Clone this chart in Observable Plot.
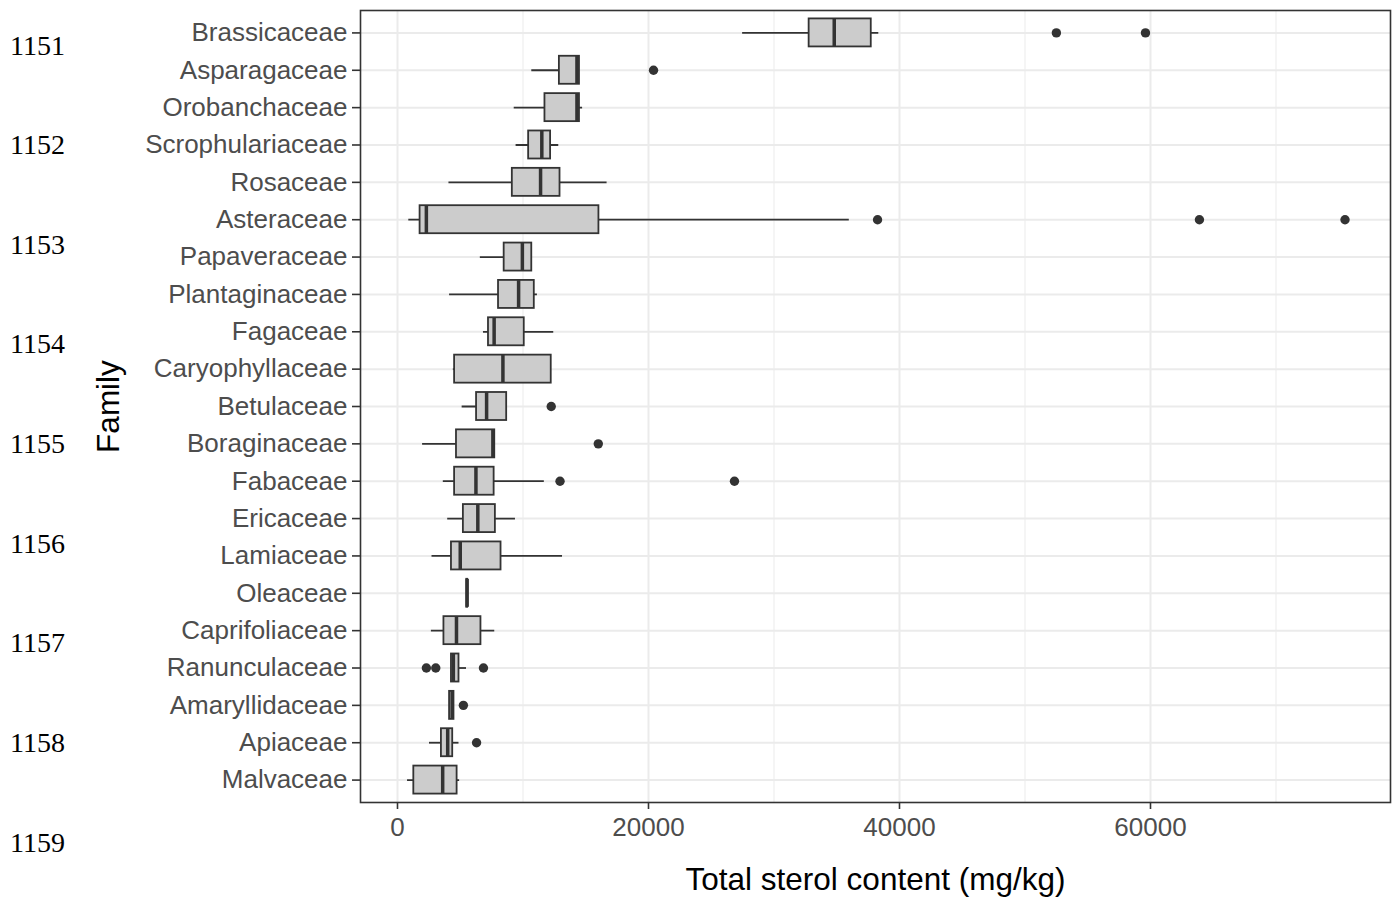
<!DOCTYPE html>
<html>
<head>
<meta charset="utf-8">
<script src="https://cdn.jsdelivr.net/npm/d3@7"></script>
<script src="https://cdn.jsdelivr.net/npm/@observablehq/plot@0.6"></script>
<style>
  html, body { margin: 0; padding: 0; background: white; }
  #wrap { position: relative; width: 1399px; height: 897px; overflow: hidden; background: white; }
  #chart { position: absolute; left: 0; top: 0; }
  .ln { position: absolute; left: 10px; font-family: "Liberation Serif", "Times New Roman", serif; font-size: 28px; line-height: 32px; color: #000; }
</style>
</head>
<body>
<div id="wrap"><div id="chart"></div></div>
<script>
// ---- data ----
const families = ["Brassicaceae","Asparagaceae","Orobanchaceae","Scrophulariaceae","Rosaceae","Asteraceae","Papaveraceae","Plantaginaceae","Fagaceae","Caryophyllaceae","Betulaceae","Boraginaceae","Fabaceae","Ericaceae","Lamiaceae","Oleaceae","Caprifoliaceae","Ranunculaceae","Amaryllidaceae","Apiaceae","Malvaceae"];
const whiskerLow  = [27500,10700, 9300, 9450, 4100,  900, 6600, 4150, 6850, 4450, 5150, 2000, 3650, 4000, 2750, 5520, 2700, 4300, 4150, 2550,  800];
const quartile1   = [32800,12900,11750,10450, 9150, 1800, 8500, 8050, 7250, 4550, 6300, 4700, 4550, 5250, 4300, 5520, 3700, 4300, 4150, 3500, 1300];
const medians     = [34800,14300,14300,11500,11400, 2300, 9950, 9650, 7700, 8400, 7100, 7600, 6250, 6400, 5000, 5550, 4700, 4450, 4350, 4000, 3600];
const quartile3   = [37750,14500,14500,12200,12950,16050,10700,10900,10100,12250, 8700, 7750, 7700, 7800, 8250, 5590, 6650, 4900, 4500, 4400, 4750];
const whiskerHigh = [38350,14500,14750,12850,16700,36000,10700,11150,12450,12250, 8700, 7750,11700, 9400,13150, 5590, 7750, 5500, 4500, 4900, 4950];
const outlierFamily = ["Brassicaceae","Brassicaceae","Asparagaceae","Asteraceae","Asteraceae","Asteraceae","Betulaceae","Boraginaceae","Fabaceae","Fabaceae","Ranunculaceae","Ranunculaceae","Ranunculaceae","Amaryllidaceae","Apiaceae"];
const outlierValue  = [52500,59600,20400,38250,63900,75500,12250,16000,12950,26850,2300,3050,6850,5250,6300];
const majorTicks = [0, 20000, 40000, 60000];
const minorTicks = [10000, 30000, 50000, 70000];
const lineNumbers = ["1151","1152","1153","1154","1155","1156","1157","1158","1159"];
const xTitle = "Total sterol content (mg/kg)";
const yTitle = "Family";

const boxes = families.map((f, i) => ({family: f, lo: whiskerLow[i], q1: quartile1[i], med: medians[i], q3: quartile3[i], hi: whiskerHigh[i]}));
const outliers = outlierFamily.map((f, i) => ({family: f, value: outlierValue[i]}));

const chart = Plot.plot({
  width: 1399,
  height: 897,
  marginLeft: 360,
  marginRight: 9,
  marginTop: 10,
  marginBottom: 95,
  style: {fontFamily: "'Liberation Sans', Arial, Helvetica, sans-serif", background: "white", color: "#4d4d4d"},
  x: {domain: [-2948, 79124]},
  y: {type: "band", domain: families, paddingInner: 0.25, paddingOuter: 0.225, round: false},
  marks: [
    Plot.gridX(minorTicks, {stroke: "#ebebeb", strokeOpacity: 1, strokeWidth: 1}),
    Plot.gridX(majorTicks, {stroke: "#ebebeb", strokeOpacity: 1, strokeWidth: 2}),
    Plot.gridY(families, {stroke: "#ebebeb", strokeOpacity: 1, strokeWidth: 2}),
    Plot.ruleY(boxes, {y: "family", x1: "lo", x2: "hi", stroke: "#333333", strokeWidth: 1.8}),
    Plot.barX(boxes, {y: "family", x1: "q1", x2: "q3", fill: "#cccccc", stroke: "#333333", strokeWidth: 1.8}),
    Plot.tickX(boxes, {y: "family", x: "med", stroke: "#333333", strokeWidth: 3.5}),
    Plot.dot(outliers, {y: "family", x: "value", r: 4.7, fill: "#333333", stroke: "none"}),
    Plot.frame({stroke: "#333333", strokeWidth: 1.6}),
    Plot.axisX(majorTicks, {tickSize: 7, tickPadding: 8, fontSize: 26, tickFormat: d => String(d), label: null, stroke: "#333333", strokeWidth: 1.6, fill: "#4d4d4d"}),
    Plot.axisY({tickSize: 8, tickPadding: 5, fontSize: 26, label: null, stroke: "#333333", strokeWidth: 1.6, fill: "#4d4d4d"}),
    Plot.text([xTitle], {frameAnchor: "bottom", lineAnchor: "middle", textAnchor: "middle", dy: 77, fontSize: 31.5, fill: "black"}),
    Plot.text([yTitle], {frameAnchor: "left", textAnchor: "middle", lineAnchor: "middle", dx: -252, rotate: -90, fontSize: 31.5, fill: "black"})
  ]
});
document.getElementById("chart").appendChild(chart);

const lnCenters = [46, 145, 245, 344, 444, 544, 643, 743, 843];
const wrap = document.getElementById("wrap");
lineNumbers.forEach((t, i) => {
  const d = document.createElement("div");
  d.className = "ln";
  d.textContent = t;
  d.style.top = (lnCenters[i] - 16) + "px";
  wrap.appendChild(d);
});
</script>
</body>
</html>
